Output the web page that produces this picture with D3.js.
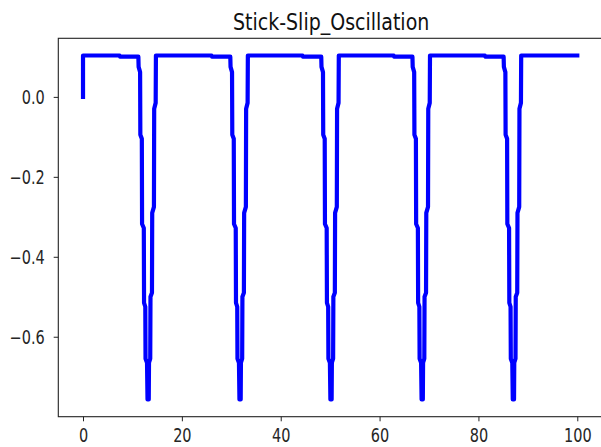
<!DOCTYPE html>
<html>
<head>
<meta charset="utf-8">
<script src="https://d3js.org/d3.v7.min.js"></script>
<style>
  body { margin: 0; background: #ffffff; }
  .canvas { width: 601px; height: 447px; }
</style>
</head>
<body>
<div class="canvas"></div>
<script>
// stick-slip velocity trace (x, v)
var startPts = [[0, 0], [0, 0.1035], [7.4, 0.1035], [7.5, 0.1005]];
var cycle1 = [[11.2, 0.1005], [11.25, 0.075], [11.55, 0.062], [11.6, -0.095], [11.9, -0.105], [11.95, -0.318], [12.3, -0.328], [12.35, -0.515], [12.6, -0.525], [12.65, -0.655], [12.95, -0.665], [13.05, -0.757],
              [13.3, -0.757], [13.35, -0.665], [13.6, -0.655], [13.65, -0.50], [13.95, -0.49], [14.0, -0.29], [14.35, -0.275], [14.4, -0.03], [14.7, -0.015], [14.75, 0.1035],
              [26.0, 0.1035], [26.1, 0.1005]];
var cycle2 = [[29.8, 0.1005], [29.85, 0.075], [30.15, 0.062], [30.2, -0.095], [30.5, -0.105], [30.55, -0.318], [30.9, -0.328], [30.95, -0.515], [31.2, -0.525], [31.25, -0.655], [31.55, -0.665], [31.65, -0.757],
              [31.9, -0.757], [31.95, -0.665], [32.2, -0.655], [32.25, -0.50], [32.55, -0.49], [32.6, -0.29], [32.95, -0.275], [33.0, -0.03], [33.3, -0.015], [33.35, 0.1035],
              [44.4, 0.1035], [44.5, 0.1005]];
var cycle3 = [[48.2, 0.1005], [48.25, 0.075], [48.55, 0.062], [48.6, -0.095], [48.9, -0.105], [48.95, -0.318], [49.3, -0.328], [49.35, -0.515], [49.6, -0.525], [49.65, -0.655], [49.95, -0.665], [50.05, -0.757],
              [50.3, -0.757], [50.35, -0.665], [50.6, -0.655], [50.65, -0.50], [50.95, -0.49], [51.0, -0.29], [51.35, -0.275], [51.4, -0.03], [51.7, -0.015], [51.75, 0.1035],
              [62.85, 0.1035], [62.95, 0.1005]];
var cycle4 = [[66.65, 0.1005], [66.7, 0.075], [67.0, 0.062], [67.05, -0.095], [67.35, -0.105], [67.4, -0.318], [67.75, -0.328], [67.8, -0.515], [68.05, -0.525], [68.1, -0.655], [68.4, -0.665], [68.5, -0.757],
              [68.75, -0.757], [68.8, -0.665], [69.05, -0.655], [69.1, -0.50], [69.4, -0.49], [69.45, -0.29], [69.8, -0.275], [69.85, -0.03], [70.15, -0.015], [70.2, 0.1035],
              [81.3, 0.1035], [81.4, 0.1005]];
var cycle5 = [[85.1, 0.1005], [85.15, 0.075], [85.45, 0.062], [85.5, -0.095], [85.8, -0.105], [85.85, -0.318], [86.2, -0.328], [86.25, -0.515], [86.5, -0.525], [86.55, -0.655], [86.85, -0.665], [86.95, -0.757],
              [87.2, -0.757], [87.25, -0.665], [87.5, -0.655], [87.55, -0.50], [87.85, -0.49], [87.9, -0.29], [88.25, -0.275], [88.3, -0.03], [88.6, -0.015], [88.65, 0.1035],
              [100, 0.1035]];

var xTicks = [0, 20, 40, 60, 80, 100];
var yTicks = [0.0, -0.2, -0.4, -0.6];
var titleText = "Stick-Slip_Oscillation";

var series = startPts.concat(cycle1, cycle2, cycle3, cycle4, cycle5);

var W = 601, H = 447;
var padL = 58.3, padR = 602, padT = 38.3, padB = 416.7;
// the reference text looks a bit stretched upwards
var tickStretch = 1.28, titleStretch = 1.2;

// matplotlib style 5% margins
var xExt = d3.extent(series, function(d){ return d[0]; });
var yExt = d3.extent(series, function(d){ return d[1]; });
var xPad = (xExt[1] - xExt[0]) * 0.05;
var yPad = (yExt[1] - yExt[0]) * 0.05;

var x = d3.scaleLinear()
	.domain([xExt[0] - xPad, xExt[1] + xPad])
	.range([padL, padR]);

var y = d3.scaleLinear()
	.domain([yExt[0] - yPad, yExt[1] + yPad])
	.range([padB, padT]);

var svg = d3.select(".canvas")
	.append("svg")
	.attr("width", W)
	.attr("height", H)
	.style("font-family", "DejaVu Sans");

svg.append("rect")
	.attr("x", 0)
	.attr("y", 0)
	.attr("width", W)
	.attr("height", H)
	.attr("fill", "#ffffff");

// the line
var line = d3.line()
	.x(function(d){ return x(d[0]); })
	.y(function(d){ return y(d[1]); });

svg.append("path")
	.datum(series)
	.attr("d", line)
	.attr("fill", "none")
	.attr("stroke", "#0000ff")
	.attr("stroke-width", 4.2)
	.attr("stroke-linejoin", "round")
	.attr("stroke-linecap", "square");

// spines
svg.append("rect")
	.attr("x", padL)
	.attr("y", padT)
	.attr("width", padR - padL)
	.attr("height", padB - padT)
	.attr("fill", "none")
	.attr("stroke", "#222222")
	.attr("stroke-width", 1.1);

var fmtY = function(d){ return d3.format(".1f")(d).replace("-", "\u2212"); };

var xAxis = svg.append("g")
	.attr("transform", "translate(0," + padB + ")")
	.call(d3.axisBottom(x).tickValues(xTicks).tickSize(4.6).tickFormat(d3.format("d")));

var yAxis = svg.append("g")
	.attr("transform", "translate(" + padL + ",0)")
	.call(d3.axisLeft(y).tickValues(yTicks).tickSize(4.6).tickFormat(fmtY));

[xAxis, yAxis].forEach(function(ax){
	ax.select(".domain").remove();
	ax.selectAll("text")
		.attr("font-family", "DejaVu Sans")
		.attr("font-size", "14.5px")
		.attr("fill", "#262626")
		.attr("x", null)
		.attr("y", null)
		.attr("dy", null);
	ax.selectAll("line")
		.attr("stroke", "#222222")
		.attr("stroke-width", 1);
});

xAxis.selectAll("text")
	.attr("transform", "translate(0,25) scale(1," + tickStretch + ")");

yAxis.selectAll("text")
	.attr("transform", "translate(-13.5,7) scale(1," + tickStretch + ")");

svg.append("text")
	.attr("transform", "translate(" + ((padL + padR) / 2 + 1) + ",30) scale(1," + titleStretch + ")")
	.attr("text-anchor", "middle")
	.attr("font-family", "DejaVu Sans")
	.attr("font-size", "19px")
	.attr("fill", "#111111")
	.text(titleText);
</script>
</body>
</html>
